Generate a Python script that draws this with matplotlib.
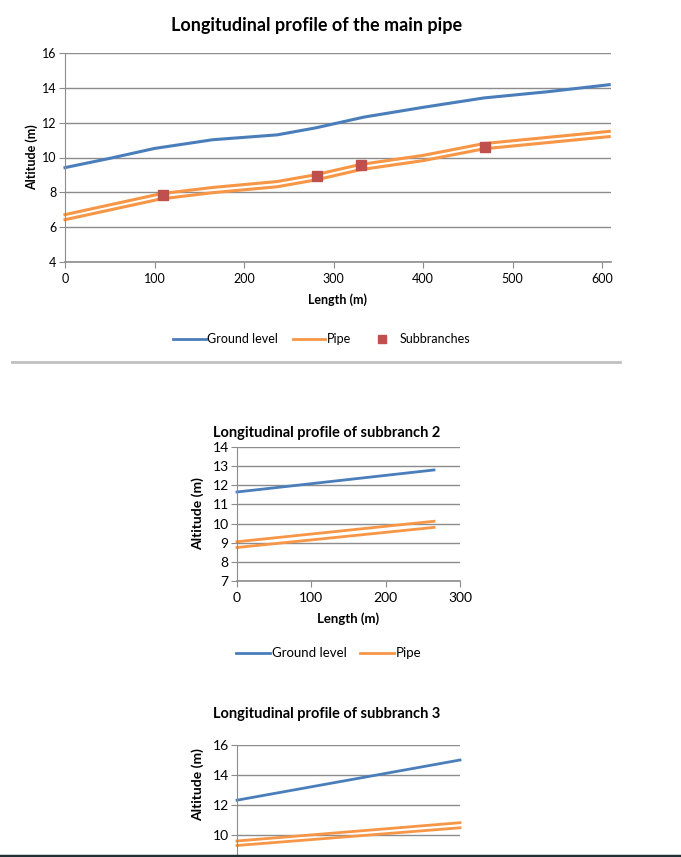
import matplotlib.pyplot as plt
from matplotlib.lines import Line2D

plt.rcParams["font.family"] = ["Lato", "DejaVu Sans"]

# main pipe
main_x = [0, 50, 100, 165, 237, 280, 334, 400, 468, 540, 608]
main_ground = [9.42, 9.95, 10.52, 11.02, 11.3, 11.7, 12.32, 12.88, 13.42, 13.78, 14.18]
pipe_x = [0, 107, 165, 237, 279, 330, 400, 468, 608]
pipe_top = [6.72, 7.92, 8.28, 8.62, 9.0, 9.6, 10.12, 10.8, 11.5]
pipe_bot = [6.43, 7.62, 7.98, 8.32, 8.7, 9.3, 9.82, 10.5, 11.2]
sub_x = [109, 282, 331, 469]
sub_y = [7.85, 8.93, 9.55, 10.62]

# subbranch 2
s2_x = [0, 265]
s2_ground = [11.65, 12.8]
s2_top = [9.05, 10.12]
s2_bot = [8.75, 9.8]

# subbranch 3
s3_x = [0, 300]
s3_ground = [12.32, 15.0]
s3_top = [9.6, 10.82]
s3_bot = [9.3, 10.48]

BLUE = "#4a7ebb"
ORANGE = "#f79646"
RED = "#c0504d"
GRID = "#8c8c8c"

W, H = 681, 857
fig = plt.figure(figsize=(W / 100, H / 100), dpi=100)

def make_ax(x0, y0, x1, y1):
    # pixel box (top-left origin) -> figure axes
    return fig.add_axes([x0 / W, 1 - y1 / H, (x1 - x0) / W, (y1 - y0) / H])

def style(ax, fs):
    for s in ["top", "right", "bottom"]:
        ax.spines[s].set_visible(False)
    ax.spines["left"].set_color(GRID)
    ax.yaxis.grid(True, color=GRID, lw=1)
    ax.set_axisbelow(True)
    ax.tick_params(axis="y", length=4, color=GRID, labelsize=fs, pad=2)
    ax.tick_params(axis="x", length=4, color=GRID, labelsize=fs, pad=4)
    ax.axhline(ax.get_ylim()[0], color=GRID, lw=1.2, clip_on=False)

def pipe(ax, x, top, bot, lw=2.2):
    ax.plot(x, top, color=ORANGE, lw=lw, clip_on=False)
    ax.plot(x, bot, color=ORANGE, lw=lw, clip_on=False)

# ---- main pipe
ax = make_ax(65, 53, 611, 262)
ax.plot(main_x, main_ground, color=BLUE, lw=2.2, clip_on=False)
pipe(ax, pipe_x, pipe_top, pipe_bot)
ax.plot(sub_x, sub_y, "s", color=RED, ms=7, clip_on=False)
ax.set_xlim(0, 610)
ax.set_ylim(4, 16)
ax.set_yticks(range(4, 17, 2))
ax.set_xticks(range(0, 601, 100))
style(ax, 9)
ax.set_ylabel("Altitude (m)", fontsize=9, fontweight="bold", labelpad=3)
ax.set_xlabel("Length (m)", fontsize=9, fontweight="bold", labelpad=6)
ax.set_title("Longitudinal profile of the main pipe", fontsize=13, fontweight="bold", pad=16, x=0.46)
handles = [Line2D([], [], color=BLUE, lw=2),
           Line2D([], [], color=ORANGE, lw=2),
           Line2D([], [], color=RED, marker="s", ls="none", ms=6)]
ax.legend(handles, ["Ground level", "Pipe", "Subbranches"], loc="center",
          bbox_to_anchor=(0.47, -0.37), ncol=3, frameon=False, fontsize=9,
          handlelength=2.6, handletextpad=0.1, columnspacing=1.2)

fig.add_artist(Line2D([12 / W, 620 / W], [1 - 362 / H] * 2, color="#c0c0c0", lw=2))

# ---- subbranch 2
ax2 = make_ax(237, 447, 460, 581)
ax2.plot(s2_x, s2_ground, color=BLUE, lw=2, clip_on=False)
pipe(ax2, s2_x, s2_top, s2_bot, lw=2)
ax2.set_xlim(0, 300)
ax2.set_ylim(7, 14)
ax2.set_yticks(range(7, 15))
ax2.set_xticks([0, 100, 200, 300])
style(ax2, 10)
ax2.set_ylabel("Altitude (m)", fontsize=10, fontweight="bold", labelpad=6)
ax2.set_xlabel("Length (m)", fontsize=9.5, fontweight="bold", labelpad=6)
ax2.set_title("Longitudinal profile of subbranch 2", fontsize=10.5, fontweight="bold", pad=7, x=0.4)
ax2.legend(handles[:2], ["Ground level", "Pipe"], loc="center",
           bbox_to_anchor=(0.41, -0.54), ncol=2, frameon=False, fontsize=9.5,
           handlelength=2.6, handletextpad=0.1, columnspacing=1.0)

# ---- subbranch 3 (cut by the page edge)
ax3 = make_ax(237, 745, 460, 925)
ax3.plot(s3_x, s3_ground, color=BLUE, lw=2, clip_on=False)
pipe(ax3, s3_x, s3_top, s3_bot, lw=2)
ax3.set_xlim(0, 300)
ax3.set_ylim(4, 16)
ax3.set_yticks(range(10, 17, 2))
style(ax3, 10)
ax3.tick_params(axis="x", labelbottom=False)
ax3.set_ylabel("Altitude (m)", fontsize=10, fontweight="bold", labelpad=6, y=0.78)
fig.text(327 / W, 1 - 714 / H, "Longitudinal profile of subbranch 3", fontsize=10.5,
         fontweight="bold", ha="center", va="center")

fig.add_artist(Line2D([0, 1], [1 / H, 1 / H], color="#1f2f33", lw=2.5))

fig.savefig("out.png", dpi=100)
